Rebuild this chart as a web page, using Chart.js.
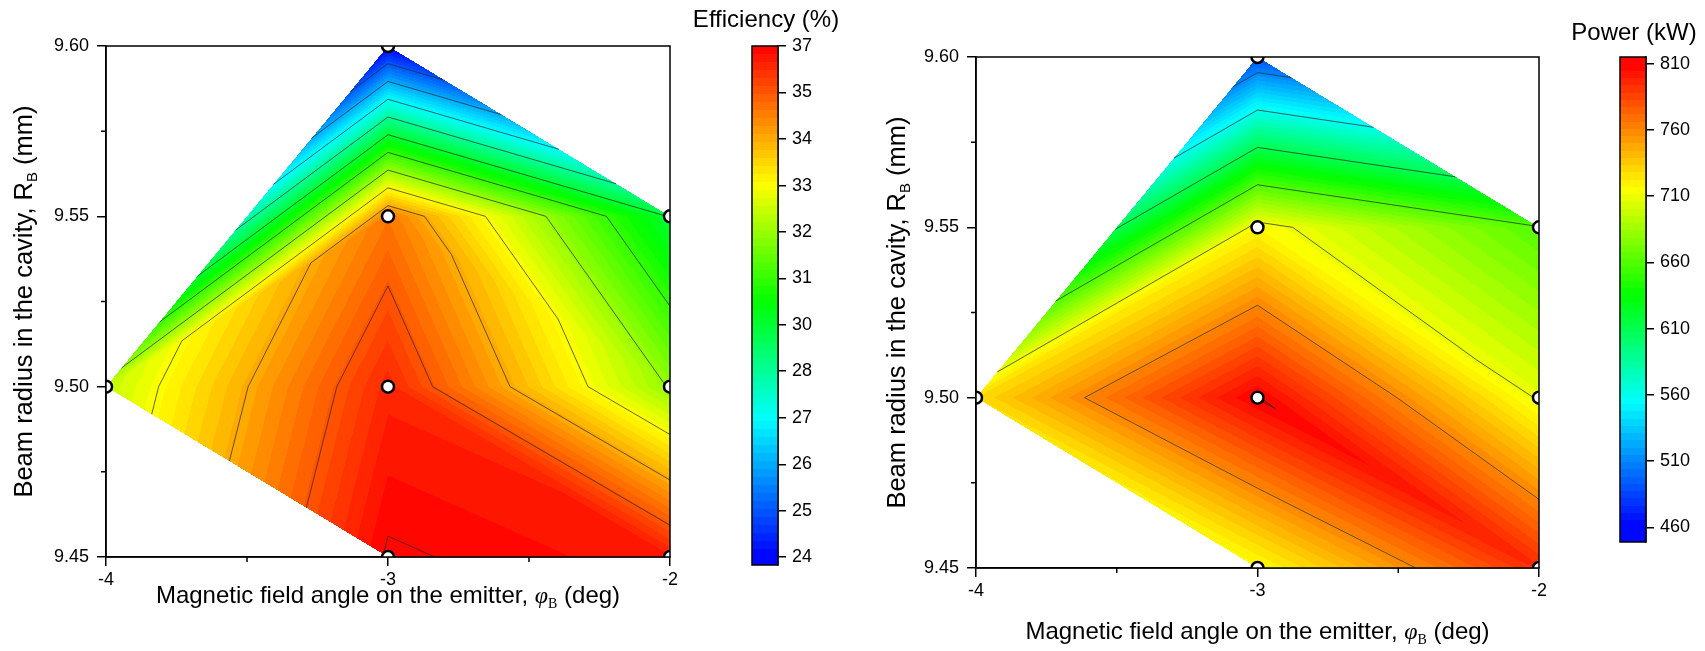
<!DOCTYPE html>
<html>
<head>
<meta charset="utf-8">
<script src="https://cdn.jsdelivr.net/npm/chart.js@4.4.0/dist/chart.umd.min.js"></script>
<style>
  html, body { margin: 0; padding: 0; background: #fff; }
  #wrap { position: relative; width: 1705px; height: 651px; overflow: hidden; }
  canvas { position: absolute; }
</style>
</head>
<body>
<div id="wrap">
  <canvas id="effPlot"></canvas>
  <canvas id="effBar"></canvas>
  <canvas id="powPlot"></canvas>
  <canvas id="powBar"></canvas>
</div>
<script>
// measured points: magnetic field angle (deg) and beam radius (mm)
var PHI = [-4, -3, -3, -3, -3, -2, -2, -2];
var RB = [9.50, 9.60, 9.55, 9.50, 9.45, 9.55, 9.50, 9.45];
// values at those points
var EFFICIENCY = [32.75, 24.0, 35.35, 36.5, 37.07, 29.85, 32.2, 36.65];
var POWER = [728, 489, 717, 811, 715, 661, 708, 795];
// triangles (point indices) used for the linear interpolation
var TRIANGLES = [[0, 1, 2], [0, 2, 3], [0, 3, 4], [1, 5, 2], [2, 5, 6], [2, 6, 3], [3, 6, 7], [3, 7, 4]];

var X_TICKS = [-4, -3, -2];
var X_MINOR = [-3.5, -2.5];
var Y_TICKS = [9.45, 9.50, 9.55, 9.60];
var Y_MINOR = [9.475, 9.525, 9.575];

// contour levels / colour bar ticks
var EFF_LEVELS = [24, 25.18, 26.36, 27.55, 28.73, 29.91, 31.09, 32.27, 33.45, 34.64, 35.82, 37];
var EFF_LABELS = ['24', '25', '26', '27', '28', '30', '31', '32', '33', '34', '35', '37'];
var POW_LEVELS = [460, 510, 560, 610, 660, 710, 760, 810];
var POW_LABELS = ['460', '510', '560', '610', '660', '710', '760', '810'];

var SANS = "'Liberation Sans', Arial, sans-serif";
var SERIF = "'Liberation Serif', 'Times New Roman', serif";
var H = 651;

var STOPS = [[0, [0, 0, 255]], [0.27, [0, 255, 255]], [0.5, [0, 255, 0]], [0.73, [255, 255, 0]], [1, [255, 0, 0]]];
var NBANDS = 64;

function rainbow(t) {
  for (var i = 1; i < STOPS.length; i++) {
    if (t <= STOPS[i][0]) {
      var a = STOPS[i - 1], b = STOPS[i];
      var f = (t - a[0]) / (b[0] - a[0]);
      return [0, 1, 2].map(function(k) { return Math.round(a[1][k] + f * (b[1][k] - a[1][k])); });
    }
  }
  return STOPS[STOPS.length - 1][1];
}

function bandColor(v, range) {
  var t = (v - range[0]) / (range[1] - range[0]);
  var i = Math.floor(t * NBANDS);
  if (i < 0) i = 0;
  if (i > NBANDS - 1) i = NBANDS - 1;
  return rainbow((i + 0.5) / NBANDS);
}

function interp(vals, x, y) {
  var py = (y - 9.45) * 20;
  for (var n = 0; n < TRIANGLES.length; n++) {
    var t = TRIANGLES[n], i = t[0], j = t[1], k = t[2];
    var x1 = PHI[i], y1 = (RB[i] - 9.45) * 20;
    var x2 = PHI[j], y2 = (RB[j] - 9.45) * 20;
    var x3 = PHI[k], y3 = (RB[k] - 9.45) * 20;
    var d = (y2 - y3) * (x1 - x3) + (x3 - x2) * (y1 - y3);
    var a = ((y2 - y3) * (x - x3) + (x3 - x2) * (py - y3)) / d;
    var b = ((y3 - y1) * (x - x3) + (x1 - x3) * (py - y3)) / d;
    var c = 1 - a - b;
    if (a >= -1e-6 && b >= -1e-6 && c >= -1e-6) return a * vals[i] + b * vals[j] + c * vals[k];
  }
  return null;
}

function contourSegments(vals, level) {
  var segs = [];
  TRIANGLES.forEach(function(tri) {
    var pts = [];
    for (var e = 0; e < 3; e++) {
      var i = tri[e], j = tri[(e + 1) % 3];
      var a = vals[i] - level, b = vals[j] - level;
      if ((a < 0 && b >= 0) || (a >= 0 && b < 0)) {
        var f = a / (a - b);
        pts.push([PHI[i] + f * (PHI[j] - PHI[i]), RB[i] + f * (RB[j] - RB[i])]);
      }
    }
    if (pts.length === 2) segs.push(pts);
  });
  return segs;
}

function drawParts(ctx, parts, cx, cy, angle) {
  ctx.save();
  ctx.translate(cx, cy);
  ctx.rotate(angle);
  var total = 0;
  parts.forEach(function(p) { ctx.font = p.font; p.w = ctx.measureText(p.text).width; total += p.w; });
  var x = -total / 2;
  ctx.fillStyle = '#000';
  ctx.textBaseline = 'alphabetic';
  ctx.textAlign = 'left';
  parts.forEach(function(p) { ctx.font = p.font; ctx.fillText(p.text, x, 8 + (p.dy || 0)); x += p.w; });
  ctx.restore();
}

var contourPlugin = {
  id: 'contour',
  beforeDatasetsDraw: function(chart, args, opts) {
    var ctx = chart.ctx, a = chart.chartArea, xs = chart.scales.x, ys = chart.scales.y;
    var w = Math.round(a.right - a.left), h = Math.round(a.bottom - a.top);
    var off = document.createElement('canvas');
    off.width = w; off.height = h;
    var octx = off.getContext('2d');
    var img = octx.createImageData(w, h);
    for (var py = 0; py < h; py++) {
      var dy = ys.getValueForPixel(a.top + py + 0.5);
      for (var px = 0; px < w; px++) {
        var dx = xs.getValueForPixel(a.left + px + 0.5);
        var v = interp(opts.vals, dx, dy);
        if (v === null) continue;
        var c = bandColor(v, opts.range);
        var o = (py * w + px) * 4;
        img.data[o] = c[0]; img.data[o + 1] = c[1]; img.data[o + 2] = c[2]; img.data[o + 3] = 255;
      }
    }
    octx.putImageData(img, 0, 0);
    ctx.drawImage(off, a.left, a.top);

    ctx.save();
    ctx.strokeStyle = 'rgba(40,40,40,0.9)';
    ctx.lineWidth = 0.8;
    opts.levels.forEach(function(level) {
      contourSegments(opts.vals, level).forEach(function(s) {
        ctx.beginPath();
        ctx.moveTo(xs.getPixelForValue(s[0][0]), ys.getPixelForValue(s[0][1]));
        ctx.lineTo(xs.getPixelForValue(s[1][0]), ys.getPixelForValue(s[1][1]));
        ctx.stroke();
      });
    });
    ctx.restore();
  },
  afterDatasetsDraw: function(chart, args, opts) {
    var ctx = chart.ctx, a = chart.chartArea, xs = chart.scales.x, ys = chart.scales.y;
    ctx.save();
    ctx.strokeStyle = '#000';
    ctx.lineWidth = 1.5;
    ctx.strokeRect(a.left, a.top, a.right - a.left, a.bottom - a.top);
    ctx.beginPath();
    X_MINOR.forEach(function(v) {
      var p = xs.getPixelForValue(v);
      ctx.moveTo(p, a.bottom); ctx.lineTo(p, a.bottom + 5);
    });
    Y_MINOR.forEach(function(v) {
      var p = ys.getPixelForValue(v);
      ctx.moveTo(a.left, p); ctx.lineTo(a.left - 5, p);
    });
    ctx.stroke();
    ctx.restore();
    drawParts(ctx, [
      { text: 'Magnetic field angle on the emitter, ', font: '24px ' + SANS },
      { text: '\u03c6', font: 'italic 24px ' + SERIF },
      { text: 'B', font: '14px ' + SERIF, dy: 5 },
      { text: ' (deg)', font: '24px ' + SANS }
    ], (a.left + a.right) / 2, opts.xTitleY, 0);
    drawParts(ctx, [
      { text: 'Beam radius in the cavity, R', font: '25.5px ' + SANS },
      { text: 'B', font: '15px ' + SANS, dy: 5 },
      { text: ' (mm)', font: '25.5px ' + SANS }
    ], opts.yTitleX, (a.top + a.bottom) / 2, -Math.PI / 2);
  }
};

var colorbarPlugin = {
  id: 'colorbar',
  beforeDatasetsDraw: function(chart, args, opts) {
    var ctx = chart.ctx, a = chart.chartArea, ys = chart.scales.y;
    for (var py = Math.floor(a.top); py < Math.ceil(a.bottom); py++) {
      var c = bandColor(ys.getValueForPixel(py + 0.5), opts.range);
      ctx.fillStyle = 'rgb(' + c.join(',') + ')';
      ctx.fillRect(a.left, py, a.right - a.left, 1);
    }
    ctx.save();
    ctx.strokeStyle = '#000';
    ctx.lineWidth = 1.5;
    ctx.strokeRect(a.left, a.top, a.right - a.left, a.bottom - a.top);
    ctx.fillStyle = '#000';
    ctx.font = '24px ' + SANS;
    ctx.textAlign = 'center';
    ctx.textBaseline = 'middle';
    ctx.fillText(opts.title, opts.titleX, opts.titleY);
    ctx.restore();
  }
};

function axisStyle() {
  return {
    ticks: { color: '#000', font: { family: SANS, size: 18 }, autoSkip: false, maxRotation: 0 },
    grid: { drawOnChartArea: false, drawTicks: true, tickLength: 9, color: '#000', lineWidth: 1.5 },
    border: { display: true, color: '#000', width: 1.5 }
  };
}

function makePlot(id, left, width, area, vals, levels, range, xTitleY, yTitleX) {
  var cv = document.getElementById(id);
  cv.width = width; cv.height = H;
  cv.style.left = left + 'px'; cv.style.top = '0px';
  var xAxis = axisStyle(), yAxis = axisStyle();
  xAxis.min = -4; xAxis.max = -2;
  xAxis.ticks.padding = 3;
  xAxis.ticks.callback = function(v) { return String(v); };
  xAxis.afterBuildTicks = function(s) { s.ticks = X_TICKS.map(function(v) { return { value: v }; }); };
  xAxis.afterFit = function(s) { s.height = H - area.bottom; };
  yAxis.min = 9.45; yAxis.max = 9.60;
  yAxis.ticks.padding = 8;
  yAxis.ticks.callback = function(v) { return v.toFixed(2); };
  yAxis.afterBuildTicks = function(s) { s.ticks = Y_TICKS.map(function(v) { return { value: v }; }); };
  yAxis.afterFit = function(s) { s.width = area.left; };
  return new Chart(cv, {
    type: 'scatter',
    data: {
      datasets: [{
        data: PHI.map(function(x, i) { return { x: x, y: RB[i] }; }),
        pointRadius: 6,
        pointBackgroundColor: '#fff',
        pointBorderColor: '#000',
        pointBorderWidth: 2.5,
        clip: 0
      }]
    },
    options: {
      responsive: false,
      animation: false,
      devicePixelRatio: 1,
      layout: { padding: { left: 0, top: area.top, right: width - area.right, bottom: 0 } },
      plugins: {
        legend: { display: false },
        tooltip: { enabled: false },
        contour: { vals: vals, levels: levels, range: range, xTitleY: xTitleY, yTitleX: yTitleX }
      },
      scales: { x: xAxis, y: yAxis }
    },
    plugins: [contourPlugin]
  });
}

function makeBar(id, left, width, bar, levels, labels, range, title, titleX, titleY) {
  var cv = document.getElementById(id);
  cv.width = width; cv.height = H;
  cv.style.left = left + 'px'; cv.style.top = '0px';
  var padLeft = bar.left - left;
  return new Chart(cv, {
    type: 'scatter',
    data: { datasets: [] },
    options: {
      responsive: false,
      animation: false,
      devicePixelRatio: 1,
      layout: { padding: { left: padLeft, top: bar.top, right: 0, bottom: H - bar.bottom } },
      plugins: {
        legend: { display: false },
        tooltip: { enabled: false },
        colorbar: { range: range, title: title, titleX: titleX - left, titleY: titleY }
      },
      scales: {
        x: { display: false, min: 0, max: 1 },
        y: {
          position: 'right',
          min: bar.min,
          max: bar.max,
          afterBuildTicks: function(s) { s.ticks = levels.map(function(v) { return { value: v }; }); },
          afterFit: function(s) { s.width = width - padLeft - bar.width; },
          ticks: { color: '#000', font: { family: SANS, size: 18 }, padding: 6, autoSkip: false,
                   callback: function(v, i) { return labels[i]; } },
          grid: { drawOnChartArea: false, drawTicks: true, tickLength: 8, color: '#000', lineWidth: 1.5 },
          border: { display: true, color: '#000', width: 1.5 }
        }
      }
    },
    plugins: [colorbarPlugin]
  });
}

makePlot('effPlot', 0, 690, { left: 106, top: 46, right: 670, bottom: 557 },
  EFFICIENCY, EFF_LEVELS, [24, 37], 595, 24);
makeBar('effBar', 690, 180, { left: 752, width: 26, top: 46, bottom: 565, min: 23.8, max: 37 },
  EFF_LEVELS, EFF_LABELS, [24, 37], 'Efficiency (%)', 766, 20);
makePlot('powPlot', 870, 690, { left: 106, top: 57, right: 669, bottom: 568 },
  POWER, POW_LEVELS, [460, 810], 631, 27);
makeBar('powBar', 1560, 145, { left: 1620, width: 26, top: 57, bottom: 542, min: 449, max: 815 },
  POW_LEVELS, POW_LABELS, [460, 810], 'Power (kW)', 1634, 33);
</script>
</body>
</html>
